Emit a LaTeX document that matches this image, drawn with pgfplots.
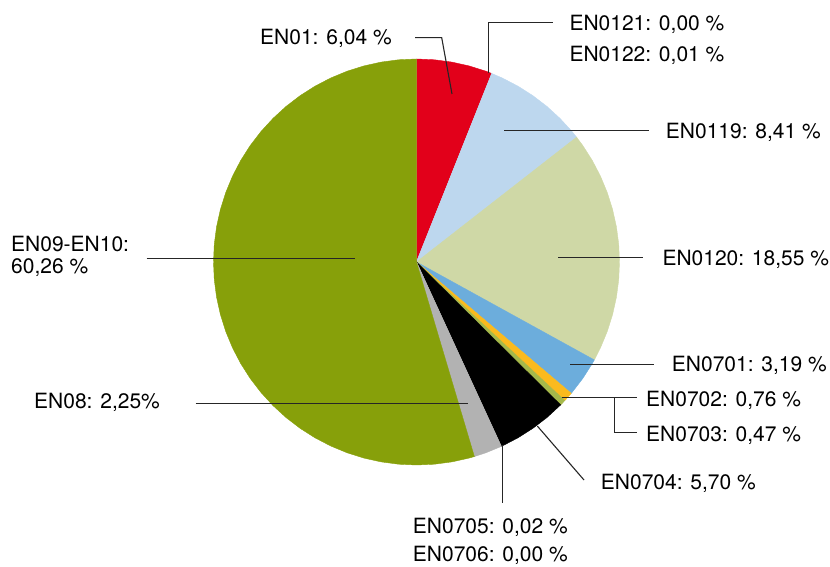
\documentclass[border=0pt]{standalone}
\usepackage{fontspec}
\setmainfont{TeX Gyre Heros}
\usepackage{pgfplots}
\pgfplotsset{compat=1.18}

\definecolor{cRed}{HTML}{E2001A}
\definecolor{cLightBlue}{HTML}{BDD7EE}
\definecolor{cBeige}{HTML}{CFD8A6}
\definecolor{cBlue}{HTML}{6CADDC}
\definecolor{cYellow}{HTML}{FBBA1E}
\definecolor{cLime}{HTML}{A5B84A}
\definecolor{cGray}{HTML}{B2B2B2}
\definecolor{cOlive}{HTML}{87A00A}

\begin{document}
\begin{tikzpicture}[
    lbl/.style={anchor=base west, inner sep=0pt, font=\fontsize{21}{25}\selectfont},
    leader/.style={black!85, line width=1.1pt},
  ]
  \begin{axis}[
      width=830pt, height=567pt, scale only axis,
      xmin=-416.5, xmax=413.5, ymin=-305, ymax=262,
      hide axis, clip=false,
      every axis plot/.append style={data cs=polar, line width=0.4pt},
    ]
    \coordinate (sw) at (rel axis cs:0,0);
    \coordinate (ne) at (rel axis cs:1,1);
    % slices: angle (deg, ccw from x axis), radius; clockwise from top
    % EN01 6,04
    \addplot[fill=cRed, draw=cRed] coordinates {
      (0,0) (90,203) (85,203) (80,203) (75,203) (70,203) (68.26,203)} -- cycle;
    % EN0122 0,01
    \addplot[fill=cLightBlue, draw=cLightBlue] coordinates {
      (0,0) (68.26,203) (68.22,203)} -- cycle;
    % EN0119 8,41
    \addplot[fill=cLightBlue, draw=cLightBlue] coordinates {
      (0,0) (68.22,203) (65,203) (60,203) (55,203) (50,203) (45,203) (40,203) (37.94,203)} -- cycle;
    % EN0120 18,55
    \addplot[fill=cBeige, draw=cBeige] coordinates {
      (0,0) (37.94,203) (35,203) (30,203) (25,203) (20,203) (15,203) (10,203) (5,203)
      (0,203) (-5,203) (-10,203) (-15,203) (-20,203) (-25,203) (-28.84,203)} -- cycle;
    % EN0701 3,19
    \addplot[fill=cBlue, draw=cBlue] coordinates {
      (0,0) (-28.84,203) (-30,203) (-35,203) (-40,203) (-40.32,203)} -- cycle;
    % EN0702 0,76
    \addplot[fill=cYellow, draw=cYellow] coordinates {
      (0,0) (-40.32,203) (-43.06,203)} -- cycle;
    % EN0703 0,47
    \addplot[fill=cLime, draw=cLime] coordinates {
      (0,0) (-43.06,203) (-44.75,203)} -- cycle;
    % EN0704 5,70
    \addplot[fill=black, draw=black] coordinates {
      (0,0) (-44.75,203) (-50,203) (-55,203) (-60,203) (-65,203) (-65.27,203)} -- cycle;
    % EN0705 0,02
    \addplot[fill=cGray, draw=cGray] coordinates {
      (0,0) (-65.27,203) (-65.34,203)} -- cycle;
    % EN08 2,25
    \addplot[fill=cGray, draw=cGray] coordinates {
      (0,0) (-65.34,203) (-70,203) (-73.44,203)} -- cycle;
    % EN09-EN10 (rest of the circle)
    \addplot[fill=cOlive, draw=cOlive] coordinates {
      (0,0) (-73.44,203) (-75,203) (-80,203) (-85,203) (-90,203) (-95,203) (-100,203)
      (-105,203) (-110,203) (-115,203) (-120,203) (-125,203) (-130,203) (-135,203)
      (-140,203) (-145,203) (-150,203) (-155,203) (-160,203) (-165,203) (-170,203)
      (-175,203) (-180,203) (-185,203) (-190,203) (-195,203) (-200,203) (-205,203)
      (-210,203) (-215,203) (-220,203) (-225,203) (-230,203) (-235,203) (-240,203)
      (-245,203) (-250,203) (-255,203) (-260,203) (-265,203) (-270,203)} -- cycle;

    % leader lines
    \draw[leader] (axis cs:-1.5,224.3) -- (axis cs:25.2,224.3) -- (axis cs:35.5,168);
    \draw[leader] (axis cs:71.8,189) -- (axis cs:71.8,239.3) -- (axis cs:136.8,239.3);
    \draw[leader] (axis cs:87.5,131.3) -- (axis cs:232.8,131.3);
    \draw[leader] (axis cs:141.5,4.7) -- (axis cs:226.2,4.7);
    \draw[leader] (axis cs:153.5,-102.3) -- (axis cs:237.5,-102.3);
    \draw[leader] (axis cs:145.2,-135.3) -- (axis cs:220.2,-135.3);
    \draw[leader] (axis cs:197.8,-135.3) -- (axis cs:197.8,-170.3) -- (axis cs:220.2,-170.3);
    \draw[leader] (axis cs:120.8,-164) -- (axis cs:167.5,-218);
    \draw[leader] (axis cs:86.2,-183) -- (axis cs:86.2,-241.3);
    \draw[leader] (axis cs:-220.8,-141.3) -- (axis cs:51.5,-141.3);
    \draw[leader] (axis cs:-269.8,3.7) -- (axis cs:-61.5,3.7);

    % labels
    \node[lbl] at (axis cs:-156.5,217) {EN01: 6,04 \%};
    \node[lbl] at (axis cs:152.8,231.3) {EN0121: 0,00 \%};
    \node[lbl] at (axis cs:152.8,200.3) {EN0122: 0,01 \%};
    \node[lbl] at (axis cs:249.2,123.7) {EN0119: 8,41 \%};
    \node[lbl] at (axis cs:245.8,-3.7) {EN0120: 18,55 \%};
    \node[lbl] at (axis cs:255.2,-109.7) {EN0701: 3,19 \%};
    \node[lbl] at (axis cs:229.5,-144.7) {EN0702: 0,76 \%};
    \node[lbl] at (axis cs:229.5,-180) {EN0703: 0,47 \%};
    \node[lbl] at (axis cs:184.2,-227.3) {EN0704: 5,70 \%};
    \node[lbl] at (axis cs:-3.8,-271.5) {EN0705: 0,02 \%};
    \node[lbl] at (axis cs:-3.8,-299.5) {EN0706: 0,00 \%};
    \node[lbl] at (axis cs:-382.5,-147) {EN08: 2,25\%};
    \node[lbl] at (axis cs:-405.5,10.3) {EN09-EN10:};
    \node[lbl] at (axis cs:-405.5,-11.3) {60,26 \%};
  \end{axis}
  \pgfresetboundingbox
  \path (sw) rectangle (ne);
\end{tikzpicture}
\end{document}
